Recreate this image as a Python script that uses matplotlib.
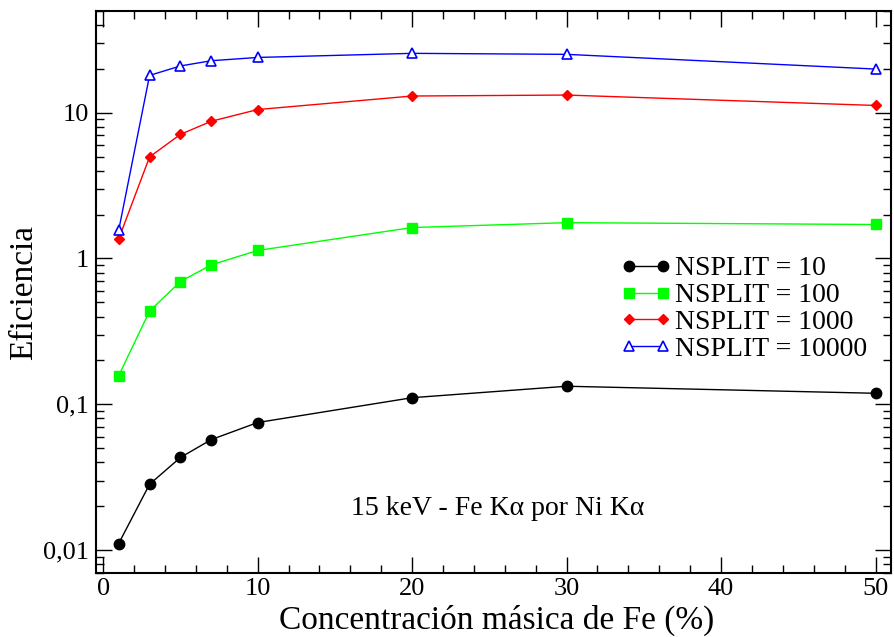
#--- Eficiencia vs concentración másica de Fe, 15 keV, Fe Ka por Ni Ka ---
import matplotlib
matplotlib.use("Agg")
import matplotlib.pyplot as plt
import matplotlib.ticker as mticker
import numpy as np

plt.rcParams['font.family'] = ['Liberation Serif', 'DejaVu Serif']

#---Data---------------------------------------------------------------
conc = [1, 3, 5, 7, 10, 20, 30, 50]                     # % Fe (masa)

ef_10    = [0.0111, 0.0283, 0.0432, 0.0573, 0.075, 0.111, 0.133, 0.119]
ef_100   = [0.157, 0.436, 0.695, 0.905, 1.135, 1.63, 1.76, 1.71]
ef_1000  = [1.36, 4.97, 7.1, 8.73, 10.5, 13.0, 13.2, 11.2]
ef_10000 = [1.56, 18.0, 20.9, 22.7, 23.9, 25.5, 25.1, 19.9]

labels = ['NSPLIT = 10', 'NSPLIT = 100', 'NSPLIT = 1000', 'NSPLIT = 10000']

#---Figure set-up------------------------------------------------------
fg = plt.figure(figsize=(8.94, 6.37), dpi=100)
ax = fg.add_axes([0.1077, 0.1009, 0.9966 - 0.1077, 0.9832 - 0.1009])

lw = 1.0
ax.plot(conc, ef_10, '-o', color='black', lw=lw, ms=7.5, label=labels[0])
ax.plot(conc, ef_100, '-s', color='#00ff00', lw=lw, ms=6.5, label=labels[1])
ax.plot(conc, ef_1000, '-D', color='red', lw=lw, ms=5.5, label=labels[2])
ax.plot(conc, ef_10000, '-^', color='blue', lw=lw, ms=7.5, mfc='white',
        mew=1.2, label=labels[3])

ax.set_yscale('log')
ax.set_xlim(-0.45, 51)
ax.set_ylim(0.007, 50)

ax.xaxis.set_major_locator(mticker.MultipleLocator(10))
ax.xaxis.set_minor_locator(mticker.MultipleLocator(2))
ax.yaxis.set_major_locator(mticker.LogLocator(base=10, numticks=10))
ax.yaxis.set_minor_locator(mticker.LogLocator(base=10, subs=np.arange(2, 10), numticks=10))
ax.yaxis.set_minor_formatter(mticker.NullFormatter())

def comma_fmt(v, pos):
    s = ('%g' % v)
    return s.replace('.', ',')
ax.yaxis.set_major_formatter(mticker.FuncFormatter(comma_fmt))

ax.tick_params(axis='both', which='both', direction='in', top=True, right=True,
               labelsize=19, width=1.0)
ax.tick_params(axis='both', which='major', length=11.5)
ax.tick_params(axis='both', which='minor', length=5.8)
ax.tick_params(axis='x', which='major', pad=4)
ax.tick_params(axis='y', which='major', pad=5)
for side in ['top', 'bottom', 'left', 'right']:
    ax.spines[side].set_linewidth(1.5)

#---Labels-------------------------------------------------------------
fg.text(0.556, 1 - 629/637, 'Concentración másica de Fe (%)', fontsize=24,
        ha='center', va='baseline')
fg.text(0.027, 1 - 293/637, 'Eficiencia', fontsize=24, rotation=90,
        ha='center', va='center')
fg.text(0.557, 1 - 515/637, '15 keV - Fe Kα por Ni Kα', fontsize=20,
        ha='center', va='baseline')

#---Legend-------------------------------------------------------------
lg = ax.legend(loc='center left', bbox_to_anchor=(620.7/894, 1 - 309/637),
               bbox_transform=fg.transFigure, frameon=False, fontsize=20,
               numpoints=2, handlelength=1.82, handletextpad=0.13,
               labelspacing=0.05, borderpad=0, borderaxespad=0)

plt.savefig('out.png', dpi=100)
